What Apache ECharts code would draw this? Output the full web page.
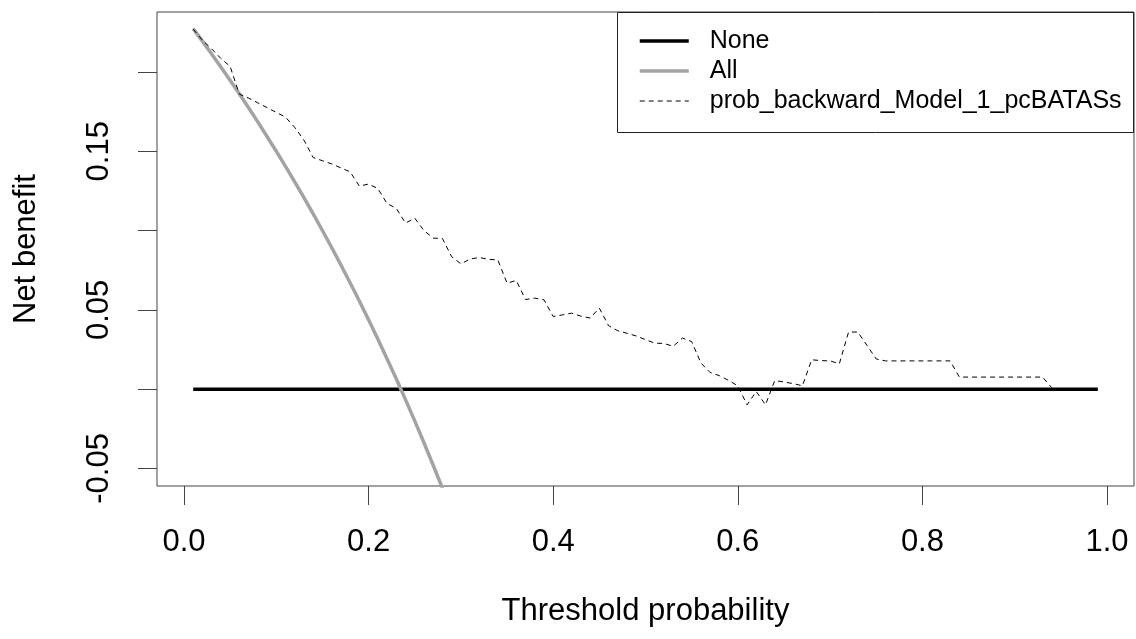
<!DOCTYPE html>
<html>
<head>
<meta charset="utf-8">
<script src="https://cdn.jsdelivr.net/npm/echarts@6/dist/echarts.min.js"></script>
<style>
  html, body { margin: 0; padding: 0; background: #fff; }
  #chart { width: 1136px; height: 639px; }
</style>
</head>
<body>
<div id="chart"></div>
<script>
// ---- data ----
const seriesNames = ['None', 'All', 'prob_backward_Model_1_pcBATASs'];

const noneX = [0.01, 0.99];
const noneY = [0, 0];

const allX = [0.01,0.02,0.03,0.04,0.05,0.06,0.07,0.08,0.09,0.10,
              0.11,0.12,0.13,0.14,0.15,0.16,0.17,0.18,0.19,0.20,
              0.21,0.22,0.23,0.24,0.25,0.26,0.27,0.28,0.29,0.30];
const allY = [0.2273,0.2194,0.2113,0.2031,0.1947,0.1862,0.1774,0.1685,0.1593,0.1500,
              0.1404,0.1307,0.1207,0.1105,0.1000,0.0893,0.0783,0.0671,0.0556,0.0438,
              0.0316,0.0192,0.0065,-0.0066,-0.0200,-0.0338,-0.0480,-0.0625,-0.0775,-0.0928];

const modelX = [0.01,0.02,0.03,0.04,0.05,0.06,0.07,0.08,0.09,0.10,
                0.11,0.12,0.13,0.14,0.15,0.16,0.17,0.18,0.19,0.20,
                0.21,0.22,0.23,0.24,0.25,0.26,0.27,0.28,0.29,0.30,
                0.31,0.32,0.33,0.34,0.35,0.36,0.37,0.38,0.39,0.40,
                0.41,0.42,0.43,0.44,0.45,0.46,0.47,0.48,0.49,0.50,
                0.51,0.52,0.53,0.54,0.55,0.56,0.57,0.58,0.59,0.60,
                0.61,0.62,0.63,0.64,0.65,0.66,0.67,0.68,0.69,0.70,
                0.71,0.72,0.73,0.74,0.75,0.76,0.77,0.78,0.79,0.80,
                0.81,0.82,0.83,0.84,0.85,0.86,0.87,0.88,0.89,0.90,
                0.91,0.92,0.93,0.94];
const modelY = [0.2270,0.2200,0.2145,0.2085,0.2035,0.1860,0.1835,0.1805,0.1775,0.1745,
                0.1715,0.1650,0.1570,0.1460,0.1440,0.1420,0.1395,0.1370,0.1280,0.1293,
                0.1265,0.1170,0.1140,0.1047,0.1078,0.1000,0.0952,0.0950,0.0835,0.0790,
                0.0820,0.0830,0.0818,0.0815,0.0668,0.0685,0.0565,0.0574,0.0563,0.0458,
                0.0468,0.0479,0.0460,0.0448,0.0511,0.0400,0.0368,0.0352,0.0335,0.0312,
                0.0290,0.0288,0.0270,0.0322,0.0300,0.0165,0.0105,0.0085,0.0055,0.0021,
                -0.0099,-0.0015,-0.0099,0.0054,0.0045,0.0035,0.0021,0.0185,0.0180,0.0178,
                0.0160,0.0360,0.0360,0.0275,0.0190,0.0178,0.0178,0.0178,0.0178,0.0178,
                0.0178,0.0178,0.0178,0.0076,0.0076,0.0076,0.0076,0.0076,0.0076,0.0076,
                0.0076,0.0076,0.0076,0.0010];

const xTickValues = [0, 0.2, 0.4, 0.6, 0.8, 1.0];
const xTickLabels = ['0.0', '0.2', '0.4', '0.6', '0.8', '1.0'];
const yTickValues = [-0.05, 0, 0.05, 0.10, 0.15, 0.20];
const yLabelValues = [-0.05, 0.05, 0.15];
const yTickLabels = ['-0.05', '0.05', '0.15'];

const xTitle = 'Threshold probability';
const yTitle = 'Net benefit';

// ---- chart ----
const FONT = '"Liberation Sans", Arial, sans-serif';
const zip = (xs, ys) => xs.map((x, i) => [x, ys[i]]);
const lookup = (vals, labels) => v => {
  for (let i = 0; i < vals.length; i++) if (Math.abs(vals[i] - v) < 1e-9) return labels[i];
  return '';
};

const chart = echarts.init(document.getElementById('chart'), null, { renderer: 'canvas' });
chart.setOption({
  animation: false,
  backgroundColor: '#ffffff',
  textStyle: { fontFamily: FONT },
  grid: {
    left: 157, top: 12, width: 977, height: 474,
    show: true, borderColor: '#444', borderWidth: 1, backgroundColor: 'transparent'
  },
  xAxis: {
    type: 'value', min: -0.0292, max: 1.0292,
    name: xTitle, nameLocation: 'middle', nameGap: 110,
    nameTextStyle: { fontSize: 31, color: '#000', fontFamily: FONT },
    axisLine: { show: false, onZero: false },
    splitLine: { show: false },
    axisTick: { show: true, customValues: xTickValues, length: 19, lineStyle: { color: '#444', width: 1 } },
    axisLabel: { customValues: xTickValues, formatter: lookup(xTickValues, xTickLabels),
                 margin: 41, fontSize: 31, color: '#000', fontFamily: FONT }
  },
  yAxis: {
    type: 'value', min: -0.06107, max: 0.23777,
    name: yTitle, nameLocation: 'middle', nameGap: 115,
    nameTextStyle: { fontSize: 31, color: '#000', fontFamily: FONT },
    axisLine: { show: false, onZero: false },
    splitLine: { show: false },
    axisTick: { show: true, customValues: yTickValues, length: 19, lineStyle: { color: '#444', width: 1 } },
    axisLabel: { customValues: yLabelValues, formatter: lookup(yLabelValues, yTickLabels),
                 rotate: 90, margin: 42, fontSize: 31, color: '#000', fontFamily: FONT }
  },
  legend: {
    data: seriesNames,
    orient: 'vertical',
    left: 638, top: 26,
    padding: 0,
    itemGap: 0,
    itemWidth: 49,
    itemHeight: 30,
    selectedMode: false,
    itemStyle: { opacity: 0 },
    lineStyle: { width: 'inherit' },
    textStyle: { fontSize: 25, color: '#000', fontFamily: FONT, lineHeight: 30, padding: [0, 0, 0, 16] }
  },
  graphic: [{
    type: 'rect', silent: true,
    shape: { x: 617.5, y: 12.5, width: 516, height: 120 },
    style: { fill: 'none', stroke: '#222', lineWidth: 1 }
  }],
  series: [
    { name: seriesNames[0], type: 'line', data: zip(noneX, noneY), symbol: 'none',
      lineStyle: { color: '#000', width: 3.5 }, itemStyle: { color: '#000' }, z: 2 },
    { name: seriesNames[1], type: 'line', data: zip(allX, allY), symbol: 'none',
      lineStyle: { color: '#a3a3a3', width: 3.5 }, itemStyle: { color: '#a3a3a3' }, z: 3 },
    { name: seriesNames[2], type: 'line', data: zip(modelX, modelY), symbol: 'none',
      lineStyle: { color: '#000', width: 1, type: [5, 4] }, itemStyle: { color: '#000' }, z: 4 }
  ]
});
</script>
</body>
</html>
